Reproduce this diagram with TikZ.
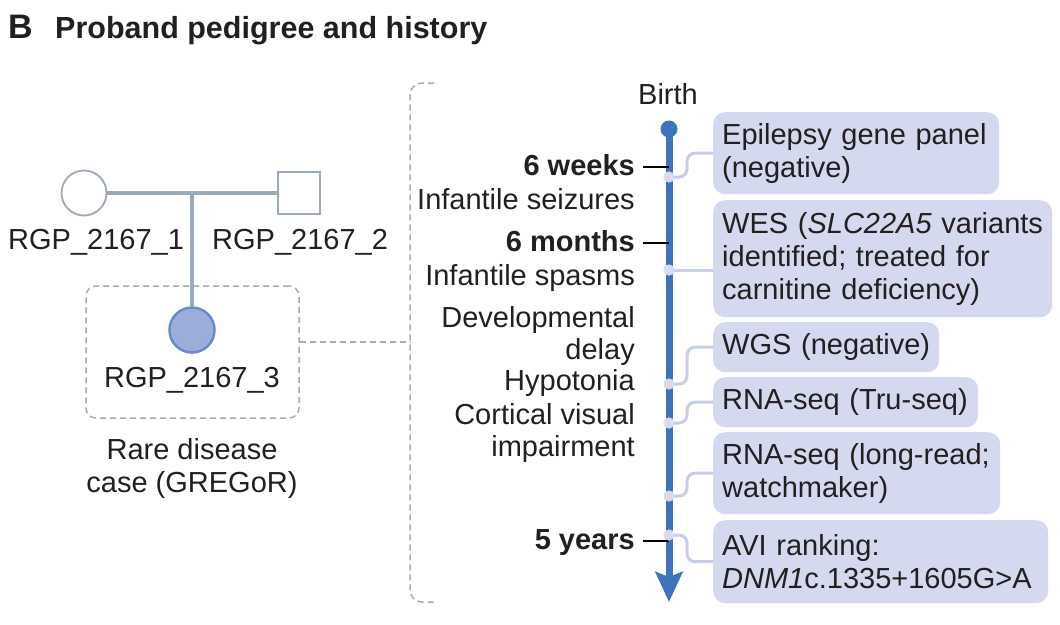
\documentclass[tikz,border=0pt]{standalone}
\usepackage{fontspec}
\setmainfont{Liberation Sans}
\usetikzlibrary{arrows.meta}
\definecolor{tlblue}{HTML}{3D74BC}
\definecolor{boxfill}{HTML}{D4D9EF}
\definecolor{conncol}{HTML}{C6CEEB}
\definecolor{dotcol}{HTML}{D6DBF0}
\definecolor{pedline}{HTML}{9BAAB9}
\definecolor{affill}{HTML}{9BADD9}
\definecolor{afdraw}{HTML}{6A8BC9}
\definecolor{txt}{HTML}{231F20}
\definecolor{dashgray}{HTML}{ABABAB}
\tikzset{
  lbl/.style={font=\fontsize{29}{33}\selectfont, text=txt, inner sep=0pt},
  boldlbl/.style={lbl, font=\fontsize{29}{33}\selectfont\bfseries},
  testbox/.style={lbl, anchor=north west, fill=boxfill, rounded corners=12pt, inner xsep=9pt, inner ysep=0pt, align=left},
  conn/.style={conncol, line width=3pt, rounded corners=8pt},
  tdot/.style={circle, fill=dotcol, minimum size=11pt, inner sep=0pt},
  tick/.style={black, line width=2pt},
  dashln/.style={dashgray, line width=1.5pt, dash pattern=on 6pt off 4pt},
  pedl/.style={pedline, line width=4pt}
}
\begin{document}
\begin{tikzpicture}[x=1pt,y=-1pt]
\useasboundingbox (0,0) rectangle (1060,624);
% title
\node[lbl, anchor=base west, font=\fontsize{34}{34}\selectfont\bfseries] (panel) at (8,38) {B};
\node[lbl, anchor=base west, font=\fontsize{30.5}{34}\selectfont\bfseries] (title) at (55,38) {Proband pedigree and history};
% pedigree
\node[circle, draw=pedline, line width=1.8pt, minimum size=45pt, inner sep=0pt] (mother) at (84,193) {};
\node[rectangle, draw=pedline, line width=1.8pt, minimum size=42pt, inner sep=0pt] (father) at (299,193) {};
\coordinate (mid) at (192,193);
\node[circle, draw=afdraw, line width=2.5pt, fill=affill, minimum size=45pt, inner sep=0pt] (proband) at (192,330) {};
\draw[pedl] (mother) -- (father);
\draw[pedl] (mid) -- (proband);
\node[lbl, anchor=base west] (l1) at (8,249) {RGP\_2167\_1};
\node[lbl, anchor=base west] (l2) at (212,249) {RGP\_2167\_2};
\node[lbl, anchor=base] (l3) at (192,387) {RGP\_2167\_3};
\node[draw=dashgray, line width=1.5pt, dash pattern=on 6pt off 4pt, rounded corners=10pt, minimum width=213pt, minimum height=132pt, inner sep=0pt] (casebox) at (192.5,352) {};
\node[lbl, anchor=base] (rare1) at (192,459) {Rare disease};
\node[lbl, anchor=base] (rare2) at (192,492) {case (GREGoR)};
% bracket
\coordinate (brtop) at (434,83);
\coordinate (brbot) at (434,602);
\coordinate (brmid) at (410,342);
\draw[dashln, rounded corners=12pt] (brtop) -- (410,83) -- (410,602) -- (brbot);
\draw[dashln] (casebox.east |- brmid) -- (brmid);
% timeline
\node[lbl, anchor=base] (birth) at (668,104) {Birth};
\node[circle, fill=tlblue, minimum size=17pt, inner sep=0pt] (birthdot) at (669,129) {};
\coordinate (tlend) at (669,602);
\draw[tlblue, line width=7pt, -{Stealth[width=27pt, length=30pt, inset=5pt]}] (birthdot.center) -- (tlend);
% ticks and left labels
\coordinate (t1) at (643,167);
\coordinate (t2) at (643,243);
\coordinate (t3) at (643,541);
\draw[tick] (t1) -- (t1 -| birthdot);
\draw[tick] (t2) -- (t2 -| birthdot);
\draw[tick] (t3) -- (t3 -| birthdot);
\node[boldlbl, anchor=base east] (w6) at (635,175) {6 weeks};
\node[lbl, anchor=base east] (sz) at (635,209) {Infantile seizures};
\node[boldlbl, anchor=base east] (m6) at (635,251) {6 months};
\node[lbl, anchor=base east] (sp) at (635,285) {Infantile spasms};
\node[lbl, anchor=base east] (dd1) at (635,327) {Developmental};
\node[lbl, anchor=base east] (dd2) at (635,359) {delay};
\node[lbl, anchor=base east] (hy) at (635,390) {Hypotonia};
\node[lbl, anchor=base east] (cv1) at (635,424) {Cortical visual};
\node[lbl, anchor=base east] (cv2) at (635,456) {impairment};
\node[boldlbl, anchor=base east] (y5) at (635,549) {5 years};
% boxes
\node[testbox, text width=268pt, minimum height=82pt] (b1) at (713,112) {Epilepsy gene panel\\(negative)};
\node[testbox, text width=321pt, minimum height=117pt] (b2) at (713,200) {WES (\textit{SLC22A5} variants\\identified; treated for\\carnitine deficiency)};
\node[testbox, text width=208pt, minimum height=50pt] (b3) at (713,322) {WGS (negative)};
\node[testbox, text width=247pt, minimum height=50pt] (b4) at (713,377) {RNA-seq (Tru-seq)};
\node[testbox, text width=269pt, minimum height=82pt] (b5) at (713,432) {RNA-seq (long-read;\\watchmaker)};
\node[testbox, text width=317pt, minimum height=83pt] (b6) at (713,520) {AVI ranking:\\\textit{DNM1}c.1335+1605G>A};
% dots
\node[tdot] (d1) at (669,177) {};
\node[tdot] (d2) at (669,270) {};
\node[tdot] (d3) at (669,384) {};
\node[tdot] (d4) at (669,423) {};
\node[tdot] (d5) at (669,496) {};
\node[tdot] (d6) at (669,535) {};
% connectors
\draw[conn] (d1.center) -- ++(18,0) |- (b1.west);
\draw[conn] (d2.center) -- (d2.center -| b2.west);
\draw[conn] (d3.center) -- ++(18,0) |- (b3.west);
\draw[conn] (d4.center) -- ++(18,0) |- (b4.west);
\draw[conn] (d5.center) -- ++(18,0) |- (b5.west);
\draw[conn] (d6.center) -- ++(18,0) |- (b6.west);
\node[tdot] at (d1) {};
\node[tdot] at (d2) {};
\node[tdot] at (d3) {};
\node[tdot] at (d4) {};
\node[tdot] at (d5) {};
\node[tdot] at (d6) {};
\end{tikzpicture}
\end{document}
